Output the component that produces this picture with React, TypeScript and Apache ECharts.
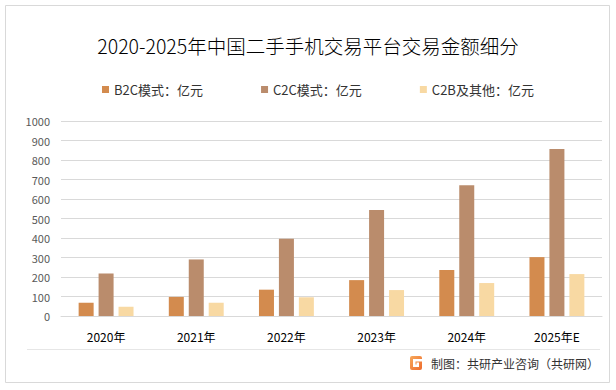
import React, { useEffect, useRef } from "react";
import * as echarts from "echarts";

const categories = ["2020年", "2021年", "2022年", "2023年", "2024年", "2025年E"];
const b2c = [68, 98, 135, 184, 236, 302];
const c2c = [218, 290, 396, 543, 671, 856];
const c2b = [48, 68, 96, 133, 169, 215];
const seriesNames = ["B2C模式：亿元", "C2C模式：亿元", "C2B及其他：亿元"];
const yTicks = { min: 0, max: 1000, interval: 100 };
const titleText = "2020-2025年中国二手手机交易平台交易金额细分";
const sourceText = "制图：共研产业咨询（共研网）";

const colors = ["#D38B4E", "#BA8C6C", "#F8D9A3"];
const FONT = "'Noto Sans CJK SC', 'Noto Sans', sans-serif";

export default function App() {
  const ref = useRef<HTMLDivElement>(null);
  useEffect(() => {
    if (!ref.current) return;
    const chart = echarts.init(ref.current, null, { renderer: "svg" });
    const mkSeries = (name: string, data: number[], i: number) => ({
      name,
      type: "bar",
      data,
      barWidth: 15,
      barGap: "33%",
      itemStyle: { color: colors[i] },
    });
    chart.setOption({
      animation: false,
      backgroundColor: "#ffffff",
      textStyle: { fontFamily: FONT },
      title: {
        text: titleText,
        left: "center",
        top: 31,
        textStyle: { fontSize: 19.5, fontWeight: 300, color: "#000000", fontFamily: FONT },
      },
      legend: {
        top: 83,
        left: 102,
        padding: 0,
        itemWidth: 7,
        itemHeight: 7,
        itemGap: 58,
        icon: "rect",
        textStyle: { fontSize: 13, color: "#333333", fontFamily: FONT },
        data: seriesNames,
      },
      grid: { left: 61, right: 14, top: 121, bottom: 74 },
      xAxis: {
        type: "category",
        data: categories,
        axisLine: { lineStyle: { color: "#d9d9d9" } },
        axisTick: { show: false },
        axisLabel: { color: "#000000", fontSize: 12, margin: 14, fontFamily: FONT },
      },
      yAxis: {
        type: "value",
        min: yTicks.min,
        max: yTicks.max,
        interval: yTicks.interval,
        axisLine: { show: false },
        axisTick: { show: false },
        axisLabel: {
          color: "#595959",
          fontSize: 11,
          margin: 11,
          fontFamily: FONT,
          formatter: (v: number) => String(v),
        },
        splitLine: { lineStyle: { color: "#d9d9d9" } },
      },
      series: [mkSeries(seriesNames[0], b2c, 0), mkSeries(seriesNames[1], c2c, 1), mkSeries(seriesNames[2], c2b, 2)],
      graphic: [
        {
          type: "rect",
          shape: { x: 5.5, y: 5.5, width: 604, height: 377 },
          style: { fill: "none", stroke: "#d9d9d9", lineWidth: 1 },
          silent: true,
        },
        {
          type: "line",
          shape: { x1: 27, y1: 349.5, x2: 600, y2: 349.5 },
          style: { stroke: "#e6e6e6", lineWidth: 1 },
          silent: true,
        },
        {
          type: "group",
          x: 410,
          y: 356,
          children: [
            {
              type: "rect",
              shape: { x: 0, y: 0, width: 12, height: 14, r: 2 },
              style: {
                fill: new echarts.graphic.LinearGradient(0, 0, 1, 1, [
                  { offset: 0, color: "#F7A95B" },
                  { offset: 1, color: "#EE6A2C" },
                ]),
              },
            },
            { type: "rect", shape: { x: 3, y: 3, width: 9, height: 2.5 }, style: { fill: "#ffffff" } },
            { type: "rect", shape: { x: 3, y: 3, width: 2.5, height: 8 }, style: { fill: "#ffffff" } },
            { type: "rect", shape: { x: 3, y: 8.5, width: 6, height: 2.5 }, style: { fill: "#ffffff" } },
            { type: "rect", shape: { x: 6.5, y: 6.5, width: 2.5, height: 4.5 }, style: { fill: "#ffffff" } },
          ],
        },
        {
          type: "text",
          x: 431,
          y: 363,
          style: {
            text: sourceText,
            fontSize: 12,
            fill: "#333333",
            fontFamily: FONT,
            verticalAlign: "middle",
          },
        },
      ],
    });
    return () => chart.dispose();
  }, []);
  return (
    <div
      ref={ref}
      style={{ position: "fixed", left: 0, top: 0, width: 616, height: 390 }}
    />
  );
}
